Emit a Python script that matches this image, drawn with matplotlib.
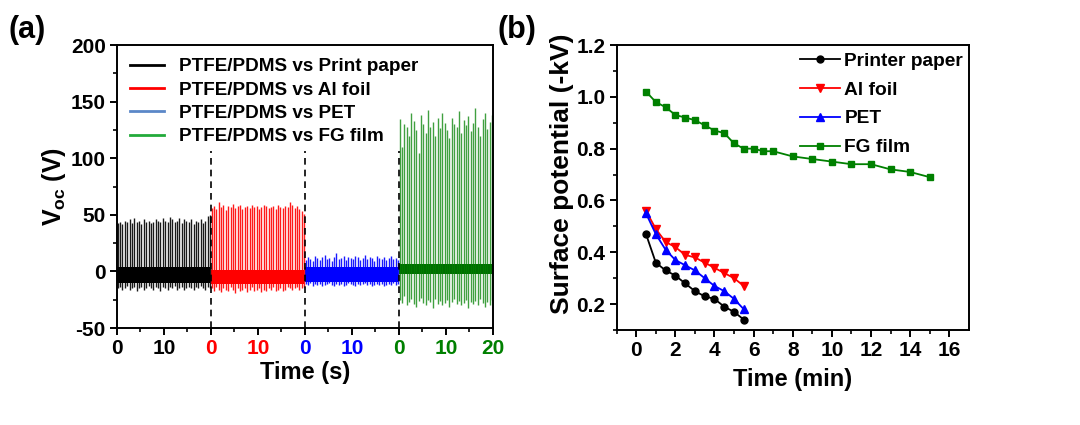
import numpy as np
import matplotlib
matplotlib.use("Agg")
import matplotlib.pyplot as plt
from matplotlib.lines import Line2D

plt.rcParams['font.family'] = ['Liberation Sans', 'DejaVu Sans']
plt.rcParams['font.weight'] = 'bold'
plt.rcParams['mathtext.fontset'] = 'custom'
plt.rcParams['mathtext.rm'] = 'Liberation Sans:bold'
plt.rcParams['mathtext.bf'] = 'Liberation Sans:bold'
plt.rcParams['axes.linewidth'] = 1.4
plt.rcParams['axes.unicode_minus'] = False

# ---- panel (a): Voc pulses, one 20 s record per counter material ----
seg_names = ['PTFE/PDMS vs Print paper', 'PTFE/PDMS vs Al foil',
             'PTFE/PDMS vs PET', 'PTFE/PDMS vs FG film']
seg_len = 20  # s per record

black_peak = [43, 44, 42, 45, 44, 46, 43, 47, 44, 45, 42, 46, 44, 45, 43, 44, 46, 45, 44, 47,
              45, 44, 48, 46, 44, 45, 47, 43, 46, 45, 44, 46, 42, 45, 44, 46, 43, 45, 49, 50]
black_trough = [-15, -14, -16, -15, -13, -16, -15, -14, -17, -15, -14, -16, -15, -13, -15, -16, -14, -15, -17, -14,
                -15, -16, -14, -15, -13, -16, -15, -14, -16, -15, -14, -15, -16, -14, -15, -13, -15, -16, -14, -15]
red_peak = [56, 58, 55, 61, 57, 59, 54, 58, 57, 60, 56, 58, 59, 55, 57, 58, 56, 59, 57, 58,
            55, 57, 59, 58, 56, 57, 58, 55, 59, 57, 56, 58, 57, 61, 59, 56, 58, 55, 53, 51]
red_trough = [-15, -17, -14, -16, -18, -15, -16, -17, -14, -16, -19, -15, -17, -16, -15, -18, -16, -14, -17, -16,
              -15, -18, -16, -17, -15, -16, -14, -17, -16, -15, -17, -16, -14, -15, -16, -15, -14, -16, -15, -14]
blue_peak = [10, 13, 11, 9, 14, 12, 10, 13, 15, 11, 12, 9, 13, 16, 11, 12, 14, 10, 13, 12,
             11, 14, 13, 10, 12, 15, 11, 13, 12, 9, 14, 12, 11, 13, 10, 12, 14, 11, 12, 10]
blue_trough = [-11, -12, -10, -13, -11, -12, -11, -13, -12, -11, -10, -12, -13, -11, -12, -11, -13, -12, -10, -11,
               -12, -13, -11, -12, -11, -10, -12, -11, -13, -12, -11, -12, -11, -13, -12, -11, -12, -10, -12, -11]
green_peak = [135, 110, 130, 128, 120, 140, 133, 125, 105, 138, 130, 122, 143, 128, 132, 120, 136, 127, 140, 131,
              125, 118, 136, 130, 128, 142, 122, 134, 129, 137, 124, 131, 144, 128, 120, 135, 140, 126, 132, 138]
green_trough = [-25, -28, -22, -30, -27, -24, -29, -31, -26, -23, -28, -30, -25, -27, -32, -24, -29, -26, -30, -28,
                -25, -31, -27, -24, -29, -26, -30, -28, -25, -32, -27, -29, -26, -30, -24, -28, -31, -27, -30, -25]
# dense noise band around zero (low, high) for each record
band_lo = [-10, -11, -9, -2]
band_hi = [4, 1, 4, 7]

# ---- panel (b): surface potential decay ----
t_short = [0.5, 1, 1.5, 2, 2.5, 3, 3.5, 4, 4.5, 5, 5.5]
paper = [0.47, 0.36, 0.33, 0.31, 0.28, 0.25, 0.23, 0.22, 0.19, 0.17, 0.14]
al_foil = [0.56, 0.49, 0.44, 0.42, 0.39, 0.38, 0.36, 0.34, 0.32, 0.30, 0.27]
pet = [0.55, 0.47, 0.41, 0.37, 0.35, 0.33, 0.30, 0.27, 0.25, 0.22, 0.18]
t_fg = [0.5, 1, 1.5, 2, 2.5, 3, 3.5, 4, 4.5, 5, 5.5, 6, 6.5, 7, 8, 9, 10, 11, 12, 13, 14, 15]
fg_film = [1.02, 0.98, 0.96, 0.93, 0.92, 0.91, 0.89, 0.87, 0.86, 0.82, 0.80, 0.80, 0.79, 0.79,
           0.77, 0.76, 0.75, 0.74, 0.74, 0.72, 0.71, 0.69]

fig = plt.figure(figsize=(10.8, 4.25), dpi=100)
ax1 = fig.add_axes([0.1083, 0.228, 0.348, 0.666])
ax2 = fig.add_axes([0.571, 0.2235, 0.326, 0.6706])

line_cols = ['black', '#ff0000', '#0000ff', '#008000']
band_cols = ['black', '#ff0000', '#0000ff', '#006b00']
legend_cols = ['black', '#ff0000', '#5b87c8', '#22aa3a']
peaks = [black_peak, red_peak, blue_peak, green_peak]
troughs = [black_trough, red_trough, blue_trough, green_trough]

for k in range(4):
    x0 = k * seg_len
    n = len(peaks[k])
    tp = x0 + 0.15 + np.arange(n) * (seg_len - 0.3) / (n - 1)
    alpha = 0.75 if k == 3 else 0.9
    ax1.vlines(tp, troughs[k], peaks[k], colors=line_cols[k], lw=1.0, alpha=alpha)
    ax1.fill_between([x0 + 0.1, x0 + seg_len - 0.1], band_lo[k], band_hi[k],
                     color=band_cols[k], lw=0)

ax1.vlines([20, 40, 60], -50, 106, colors='k', linestyles=(0, (4, 3)), lw=1.2)

ax1.set_xlim(0, 80)
ax1.set_ylim(-50, 200)
ax1.set_xticks(np.arange(0, 81, 10))
ax1.set_xticklabels(['0', '10', '0', '10', '0', '10', '0', '10', '20'])
tick_cols = ['black', 'black', '#ff0000', '#ff0000', '#0000ff', '#0000ff', '#008000', '#008000', '#008000']
for lab, c in zip(ax1.get_xticklabels(), tick_cols):
    lab.set_color(c)
ax1.set_xticks(np.arange(5, 80, 10), minor=True)
ax1.set_yticks(np.arange(-50, 201, 50))
ax1.set_yticks(np.arange(-25, 200, 50), minor=True)
ax1.tick_params(which='major', direction='out', length=5, width=1.4, labelsize=15, pad=3)
ax1.tick_params(which='minor', direction='out', length=3, width=1.2)
ax1.set_xlabel('Time (s)', fontsize=17, fontweight='bold', labelpad=2)
ax1.set_ylabel(r'V$_{\mathrm{oc}}$ (V)', fontsize=18, fontweight='bold', labelpad=2)

handles = [Line2D([], [], color=c, lw=2) for c in legend_cols]
ax1.legend(handles, seg_names, loc='upper left', frameon=False, fontsize=13.6,
           handlelength=1.8, handletextpad=0.8, borderaxespad=0.3, labelspacing=0.32,
           bbox_to_anchor=(0.0, 1.0))

ax2.plot(t_short, paper, color='black', marker='o', ms=5, lw=1.3, label='Printer paper')
ax2.plot(t_short, al_foil, color='#ff0000', marker='v', ms=6, lw=1.3, label='Al foil')
ax2.plot(t_short, pet, color='#0000ff', marker='^', ms=6, lw=1.3, label='PET')
ax2.plot(t_fg, fg_film, color='#008000', marker='s', ms=5, lw=1.3, label='FG film')
ax2.set_xlim(-1, 17)
ax2.set_ylim(0.1, 1.2)
ax2.set_xticks(np.arange(0, 17, 2))
ax2.set_xticks(np.arange(-1, 17, 1), minor=True)
ax2.set_yticks(np.arange(0.2, 1.21, 0.2))
ax2.set_yticks(np.arange(0.1, 1.2, 0.1), minor=True)
ax2.tick_params(which='major', direction='out', length=5, width=1.4, labelsize=15, pad=3)
ax2.tick_params(which='minor', direction='out', length=3, width=1.2)
ax2.set_xlabel('Time (min)', fontsize=17, fontweight='bold', labelpad=6)
ax2.set_ylabel('Surface potential (-kV)', fontsize=19, fontweight='bold')
ax2.yaxis.set_label_coords(-0.12, 0.55)
ax2.legend(loc='upper right', frameon=False, fontsize=13.8, handlelength=2.1,
           borderaxespad=0.0, borderpad=0.3, labelspacing=0.6, handletextpad=0.2,
           bbox_to_anchor=(1.0, 0.995))

fig.text(0.008, 0.91, '(a)', fontsize=22, fontweight='bold')
fig.text(0.461, 0.91, '(b)', fontsize=22, fontweight='bold')

fig.savefig('out.png', dpi=100)
